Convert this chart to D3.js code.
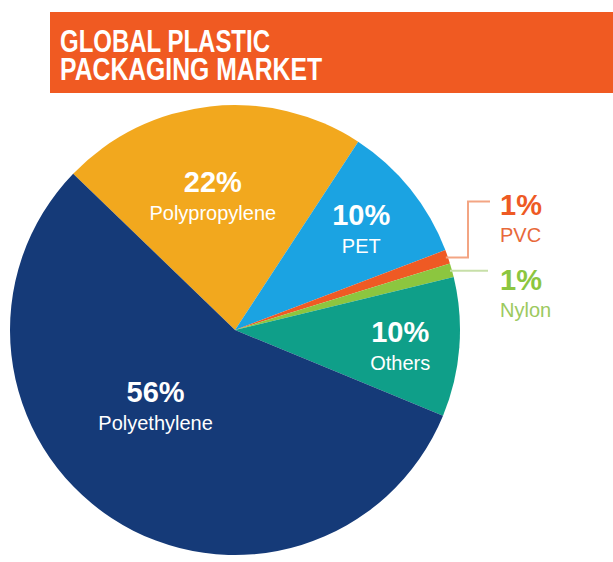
<!DOCTYPE html>
<html>
<head>
<meta charset="utf-8">
<script src="https://cdn.jsdelivr.net/npm/d3@7"></script>
<style>
  html, body { margin: 0; padding: 0; background: #ffffff; }
  svg { display: block; }
</style>
</head>
<body>
<svg id="chart" width="613" height="562"></svg>
<script>
// Market share of plastic packaging by material (percent)
const materials = ["Polypropylene", "PET", "PVC", "Nylon", "Others", "Polyethylene"];
const shares    = [22, 10, 1, 1, 10, 56];
const titleLines = ["GLOBAL PLASTIC", "PACKAGING MARKET"];

const colors = {
  Polypropylene: "#f2a81e",
  PET:           "#1ba3e2",
  PVC:           "#ef5a24",
  Nylon:         "#8cc63f",
  Others:        "#0f9f89",
  Polyethylene:  "#153a78"
};

const svg = d3.select("#chart");
const W = 613, H = 562;

// Title banner
svg.append("rect")
  .attr("x", 50).attr("y", 12)
  .attr("width", W - 50).attr("height", 81)
  .attr("fill", "#f05a22");

const titleWidths = [210, 262];
titleLines.forEach((t, i) => {
  svg.append("text")
    .attr("x", 60).attr("y", 52 + i * 28)
    .attr("font-family", "'Liberation Sans Narrow', 'Liberation Sans', Arial, sans-serif")
    .attr("font-weight", "bold")
    .attr("font-size", 31)
    .attr("textLength", titleWidths[i])
    .attr("lengthAdjust", "spacingAndGlyphs")
    .attr("fill", "#ffffff")
    .text(t);
});

// Pie
const cx = 235, cy = 330, R = 225;
const data = materials.map((m, i) => ({ name: m, value: shares[i] }));
const start = -46 * Math.PI / 180;
const pie = d3.pie().value(d => d.value).sort(null)
  .startAngle(start).endAngle(start + 2 * Math.PI);
const arcs = pie(data);
const arc = d3.arc().innerRadius(0).outerRadius(R);

const g = svg.append("g").attr("transform", `translate(${cx},${cy})`);
g.selectAll("path.slice")
  .data(arcs)
  .join("path")
  .attr("class", "slice")
  .attr("d", arc)
  .attr("fill", d => colors[d.data.name]);

const polar = (angle, r) => [r * Math.sin(angle), -r * Math.cos(angle)];
const font = "'Liberation Sans', Arial, sans-serif";

// Labels inside the larger slices: radius and angular nudge from the slice middle
const inside = {
  Polypropylene: { r: 136, da: -3 },
  PET:           { r: 162, da: 0 },
  Others:        { r: 166, da: 1 },
  Polyethylene:  { r: 110, da: 13 }
};
arcs.filter(d => inside[d.data.name]).forEach(d => {
  const p = inside[d.data.name];
  const mid = (d.startAngle + d.endAngle) / 2 + p.da * Math.PI / 180;
  const [x, y] = polar(mid, p.r);
  g.append("text")
    .attr("x", x).attr("y", y - 4)
    .attr("text-anchor", "middle")
    .attr("font-family", font).attr("font-weight", "bold").attr("font-size", 29)
    .attr("fill", "#ffffff")
    .text(d.data.value + "%");
  g.append("text")
    .attr("x", x).attr("y", y + 24)
    .attr("text-anchor", "middle")
    .attr("font-family", font).attr("font-size", 20)
    .attr("fill", "#ffffff")
    .text(d.data.name);
});

// Callouts for the thin slices
const callouts = {
  PVC:   { line: "#f3a583", pct: "#ee5a24", name: "#e8693a", elbowX: 233, rise: 56, endX: 255, tx: 265, ty: -115 },
  Nylon: { line: "#c7dfa8", pct: "#8cc63f", name: "#9cc95e", elbowX: null, rise: 0, endX: 253, tx: 265, ty: -40 }
};
arcs.filter(d => callouts[d.data.name]).forEach(d => {
  const c = callouts[d.data.name];
  const mid = (d.startAngle + d.endAngle) / 2;
  const [x0, y0] = polar(mid, R - 2);
  let pts;
  if (c.elbowX !== null) {
    pts = [[x0, y0], [c.elbowX, y0], [c.elbowX, y0 - c.rise], [c.endX, y0 - c.rise]];
  } else {
    pts = [[x0, y0], [c.endX, y0]];
  }
  g.append("path")
    .attr("d", d3.line()(pts))
    .attr("fill", "none")
    .attr("stroke", c.line)
    .attr("stroke-width", 2);
  g.append("text")
    .attr("x", c.tx).attr("y", c.ty)
    .attr("font-family", font).attr("font-weight", "bold").attr("font-size", 29)
    .attr("fill", c.pct)
    .text(d.data.value + "%");
  g.append("text")
    .attr("x", c.tx).attr("y", c.ty + 27)
    .attr("font-family", font).attr("font-size", 20)
    .attr("fill", c.name)
    .text(d.data.name);
});
</script>
</body>
</html>
